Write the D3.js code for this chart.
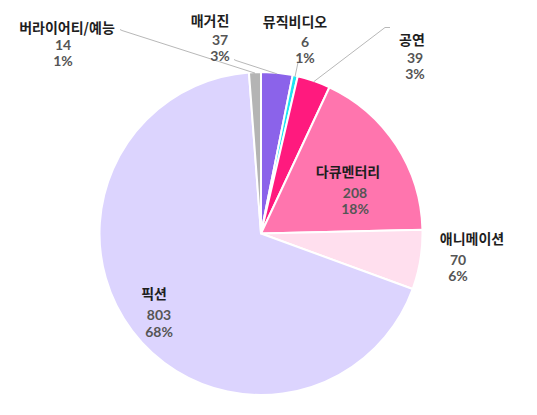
<!DOCTYPE html>
<html><head><meta charset="utf-8">
<script src="https://cdn.jsdelivr.net/npm/d3@7"></script>
<style>
html,body{margin:0;padding:0;background:#fff;}
svg{display:block;}
</style></head>
<body>
<script>
// ---- data ----
const categories = ["매거진","뮤직비디오","공연","다큐멘터리","애니메이션","픽션","버라이어티/예능"];
const values = [37, 6, 39, 208, 70, 803, 14];
const percents = ["3%","1%","3%","18%","6%","68%","1%"];

// ---- style ----
const colors = ["#8b63ea","#1ce6f2","#ff1a7e","#ff75ae","#ffdfee","#dcd4fe","#b4b4b4"];
const W = 537, H = 415, cx = 261, cy = 233.5, R = 161.5;
// label layout relative to pie centre: name centre (nx,ny), numbers centre x (vx), line gaps, leader polyline
const layout = {
  "매거진":        {nx:-51, ny:-213, vx:-41, gap1:19, gap2:16, line:[[-25,-173],[-27,-174]]},
  "뮤직비디오":    {nx:34,  ny:-212, vx:44,  gap1:20, gap2:16, line:[[37,-171],[40,-171]]},
  "공연":          {nx:151, ny:-194, vx:154, gap1:18, gap2:16, line:[[124,-206],[129,-206]]},
  "다큐멘터리":    {nx:87,  ny:-62,  vx:94,  gap1:21, gap2:16},
  "애니메이션":    {nx:211, ny:5,    vx:197, gap1:21, gap2:16},
  "픽션":          {nx:-107,ny:60,   vx:-102,gap1:21, gap2:17},
  "버라이어티/예능":{nx:-194,ny:-206, vx:-198,gap1:17, gap2:16, line:[[-139,-203],[-141,-204]]}
};

const svg = d3.select("body").append("svg").attr("width", W).attr("height", H);
const g = svg.append("g").attr("transform", `translate(${cx},${cy})`);

const pie = d3.pie().sort(null).value(d => d.v);
const data = categories.map((c,i) => ({c, v: values[i], p: percents[i], i}));
const arcs = pie(data);
const arc = d3.arc().innerRadius(0).outerRadius(R);
const edge = d3.arc().innerRadius(R - 1).outerRadius(R - 1);

g.selectAll("path.slice").data(arcs).join("path")
  .attr("class","slice")
  .attr("d", arc)
  .attr("fill", d => colors[d.data.i])
  .attr("stroke", "#fff").attr("stroke-width", 2).attr("stroke-linejoin","round");

// leader lines
arcs.filter(d => layout[d.data.c].line).forEach(d => {
  const L = layout[d.data.c];
  const p0 = edge.centroid(d);
  const pts = [p0, ...L.line];
  g.append("path")
    .attr("d", d3.line()(pts))
    .attr("fill","none").attr("stroke","#b8b8b8").attr("stroke-width",1);
});

// labels (y values are baselines)
const lab = g.selectAll("g.lab").data(arcs).join("g").attr("class","lab");
lab.append("text")
  .attr("x", d => layout[d.data.c].nx)
  .attr("y", d => layout[d.data.c].ny + 5)
  .attr("text-anchor","middle")
  .attr("font-family","'Noto Sans CJK KR','Noto Sans',sans-serif")
  .attr("font-weight",700).attr("font-size",14).attr("fill","#1e1e1e")
  .text(d => d.data.c);
lab.append("text")
  .attr("x", d => layout[d.data.c].vx)
  .attr("y", d => layout[d.data.c].ny + layout[d.data.c].gap1 + 5)
  .attr("text-anchor","middle")
  .attr("font-family","Lato,'Open Sans',sans-serif")
  .attr("font-weight",700).attr("font-size",14).attr("fill","#555")
  .text(d => d.data.v);
lab.append("text")
  .attr("x", d => layout[d.data.c].vx)
  .attr("y", d => layout[d.data.c].ny + layout[d.data.c].gap1 + layout[d.data.c].gap2 + 5)
  .attr("text-anchor","middle")
  .attr("font-family","Lato,'Open Sans',sans-serif")
  .attr("font-weight",700).attr("font-size",14).attr("fill","#555")
  .text(d => d.data.p);
</script>
</body></html>
